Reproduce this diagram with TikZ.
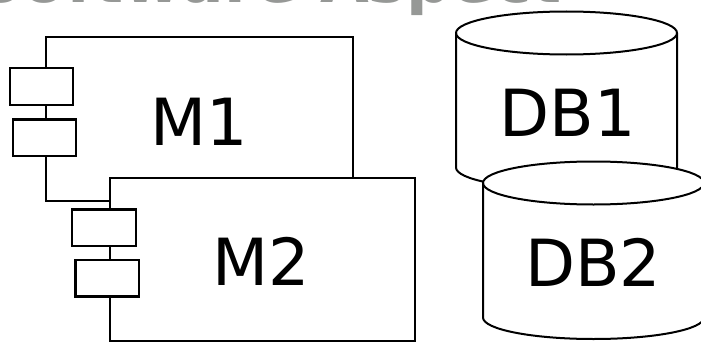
\documentclass[tikz,border=0pt]{standalone}
\usepackage{fontspec}
\setmainfont{DejaVu Sans}
\definecolor{titlegray}{RGB}{150,152,150}
\tikzset{
  comp/.style={draw, fill=white, line width=2.3pt, inner sep=0pt, anchor=north west},
  port/.style={draw, fill=white, line width=2.3pt, inner sep=0pt,
               minimum width=63.5pt, minimum height=36.5pt},
  bigtext/.style={anchor=base, inner sep=0pt, font=\fontsize{65}{65}\selectfont},
  dbline/.style={draw, fill=white, line width=2pt, line join=round},
  dbcyl/.pic={
    % body: left side, bottom arc, right side, back half of the lid
    \path[dbline] (-110.5,0) -- (-110.5,-134.5)
      arc[start angle=180, end angle=360, x radius=110.5, y radius=21.5]
      -- (110.5,0)
      arc[start angle=0, end angle=180, x radius=110.5, y radius=21.5] -- cycle;
    % front half of the lid
    \draw[line width=2pt] (-110.5,0)
      arc[start angle=180, end angle=360, x radius=110.5, y radius=21.5];
  }
}
\begin{document}
\begin{tikzpicture}[x=1pt, y=1pt]
  \useasboundingbox (0,0) rectangle (701,341);
  \clip (0,0) rectangle (701,341);

  % heading, mostly above the page
  \node[anchor=base west, inner sep=0pt, text=titlegray,
        font=\bfseries\fontsize{63}{63}\selectfont] (title) at (-22.7,338.3) {Software Aspect};

  % component M1 with its two ports
  \node[comp, minimum width=307pt, minimum height=164pt] (m1) at (45,305) {};
  \node[port] (m1p1) at (41.5,254.5) {};
  \node[port] (m1p2) at (44.5,203.3) {};
  \node[bigtext] (m1t) at (199.5,196) {M1};

  % component M2 in front of M1
  \node[comp, minimum width=305pt, minimum height=163pt] (m2) at (109,164) {};
  \node[port] (m2p1) at (104,113.3) {};
  \node[port] (m2p2) at (107.3,62.7) {};
  \node[bigtext] (m2t) at (261.3,56) {M2};

  % databases
  \pic (db1) at (566.5,308) {dbcyl};
  \node[bigtext] (db1t) at (567.5,204.3) {DB1};
  \pic (db2) at (593.5,158) {dbcyl};
  \node[bigtext] (db2t) at (593.3,54.3) {DB2};
\end{tikzpicture}
\end{document}
